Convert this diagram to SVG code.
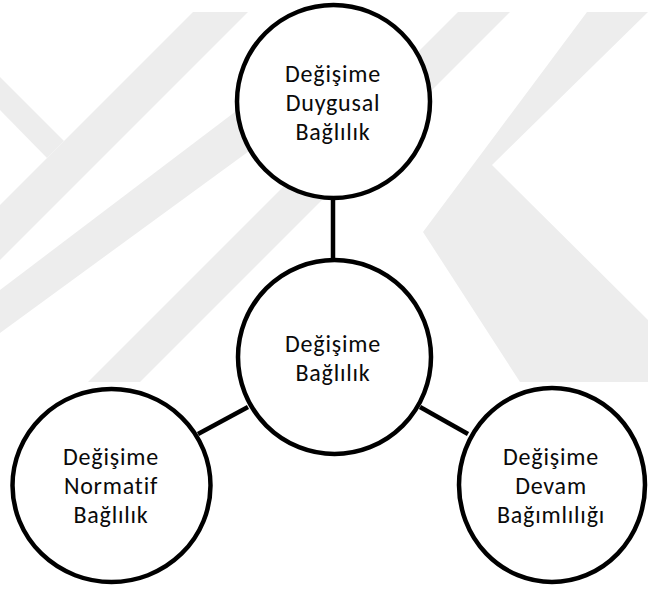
<svg xmlns="http://www.w3.org/2000/svg" width="648" height="589" viewBox="0 0 648 589">
  <style>
    .wm { fill: #ededed; stroke: none; }
    .node { fill: #ffffff; stroke: #000000; stroke-width: 4.5; }
    .edge { stroke: #000000; stroke-width: 4.5; fill: none; }
    .lbl { font-family: Carlito, Calibri, Lato, "Open Sans", sans-serif; font-size: 24px; letter-spacing: 0.8px; fill: #0a0a0a; text-anchor: middle; font-variant-ligatures: none; }
  </style>
  <defs>
    <clipPath id="wmclip"><rect x="0" y="12" width="648" height="370"/></clipPath>
  </defs>
  <rect width="648" height="589" fill="#ffffff"/>
  <g id="watermark" clip-path="url(#wmclip)">
    <polygon class="wm" points="193,12 248,12 -130,390 -185,390"/>
    <polygon class="wm" points="0,77 64,141 47,158 0,110"/>
    <polygon class="wm" points="260,93 260,143 0,333 0,290"/>
    <polygon class="wm" points="458,12 510,12 138,384 86,384"/>
    <polygon class="wm" points="587,12 648,12 492,165 648,320 648,382 520,382 423,232"/>
  </g>
  <g id="connectors">
    <line class="edge" x1="333" y1="198" x2="333" y2="260"/>
    <line class="edge" x1="198" y1="434" x2="248" y2="407"/>
    <line class="edge" x1="420" y1="407" x2="468" y2="434"/>
  </g>
  <g id="node-duygusal">
    <ellipse class="node" cx="333.5" cy="101.5" rx="96.5" ry="96.5"/>
    <text class="lbl" x="333" y="82">Değişime</text>
    <text class="lbl" x="333" y="111">Duygusal</text>
    <text class="lbl" x="333" y="140">Bağlılık</text>
  </g>
  <g id="node-baglilik">
    <ellipse class="node" cx="334.5" cy="357" rx="96.5" ry="97"/>
    <text class="lbl" x="333" y="351.5">Değişime</text>
    <text class="lbl" x="333" y="380.5">Bağlılık</text>
  </g>
  <g id="node-normatif">
    <ellipse class="node" cx="111.5" cy="485.5" rx="99" ry="96.5"/>
    <text class="lbl" x="111" y="464.5">Değişime</text>
    <text class="lbl" x="111" y="493.5">Normatif</text>
    <text class="lbl" x="111" y="522.5">Bağlılık</text>
  </g>
  <g id="node-devam">
    <ellipse class="node" cx="552" cy="485" rx="93" ry="97"/>
    <text class="lbl" x="551" y="464.5">Değişime</text>
    <text class="lbl" x="551" y="493.5">Devam</text>
    <text class="lbl" x="551" y="522.5">Bağımlılığı</text>
  </g>
</svg>
